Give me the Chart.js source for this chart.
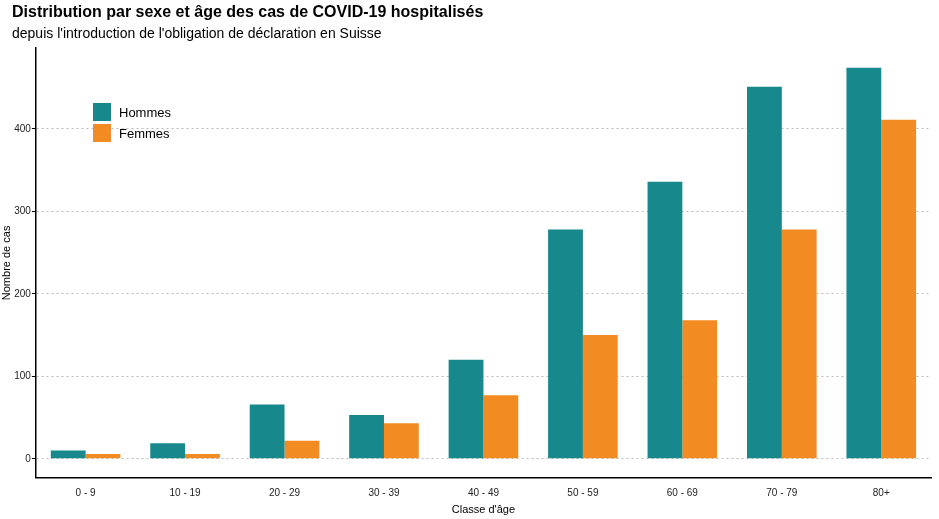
<!DOCTYPE html><html><head><script src="https://cdn.jsdelivr.net/npm/chart.js@4"></script>
<style>body{margin:0;background:#fff}#w{width:939px;height:519px;position:relative}</style></head><body><div id="w"><canvas id="c"></canvas></div>
<script>
const categories=["0 - 9","10 - 19","20 - 29","30 - 39","40 - 49","50 - 59","60 - 69","70 - 79","80+"];
const hommes=[10,19,66,53,120,278,336,451,474];
const femmes=[6,6,22,43,77,150,168,278,411];
const yTicks=[0,100,200,300,400];
const titleText='Distribution par sexe et âge des cas de COVID-19 hospitalisés';
const subtitleText="depuis l'introduction de l'obligation de déclaration en Suisse";
const legendPlugin={id:'lg',afterDraw(ch){const c=ch.ctx;c.save();c.textBaseline='middle';c.fillStyle='#000';
c.font='bold 16px Liberation Sans, Arial';c.fillText(titleText,12,13);
c.font='14px Liberation Sans, Arial';c.fillText(subtitleText,12,34);
c.font='13px Liberation Sans, Arial';
ch.data.datasets.forEach((d,i)=>{const y=113+i*21;c.fillStyle=d.backgroundColor;c.fillRect(93,y-10,18,18);c.fillStyle='#000';c.fillText(d.label,119,y);});c.restore();}};
new Chart(document.getElementById('c'),{type:'bar',data:{labels:categories,datasets:[
{label:'Hommes',data:hommes,backgroundColor:'#17898C'},{label:'Femmes',data:femmes,backgroundColor:'#F28C22'}]},
options:{responsive:true,maintainAspectRatio:false,animation:false,devicePixelRatio:1,
layout:{padding:{left:0,right:8,top:48,bottom:2}},
plugins:{legend:{display:false},tooltip:{enabled:false}},
datasets:{bar:{categoryPercentage:0.7,barPercentage:1}},
scales:{x:{grid:{display:false,drawTicks:true,tickColor:'#000',tickLength:4},border:{color:'#000',width:1.5},ticks:{color:'#222',padding:5,font:{family:'Liberation Sans, Arial',size:10}},
title:{display:true,text:"Classe d'âge",color:'#000',font:{family:'Liberation Sans, Arial',size:11},padding:{top:0,bottom:0}}},
y:{min:-23,max:498,afterBuildTicks(a){a.ticks=yTicks.map(v=>({value:v}));},
grid:{color:'#bbb',drawTicks:true,tickColor:'#000',tickLength:4},border:{color:'#000',width:1.5,dash:[2,3]},
ticks:{color:'#222',padding:1,font:{family:'Liberation Sans, Arial',size:10}},
title:{display:true,text:'Nombre de cas',color:'#000',font:{family:'Liberation Sans, Arial',size:11},padding:{top:0,bottom:0}}}}},
plugins:[legendPlugin]});
</script></body></html>
